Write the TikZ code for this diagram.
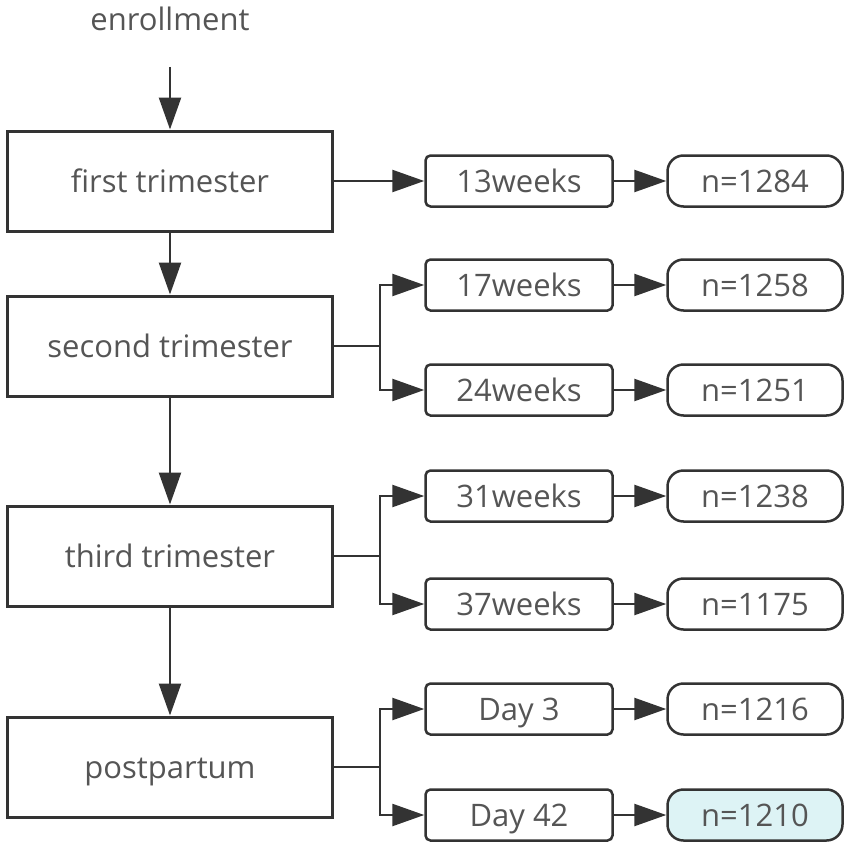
\documentclass[tikz,border=0pt]{standalone}
\usepackage{fontspec}
\setmainfont{Open Sans}
\usetikzlibrary{arrows.meta}
\definecolor{ln}{HTML}{333333}
\definecolor{tx}{HTML}{555555}
\definecolor{hl}{HTML}{DDF3F5}
\begin{document}
\begin{tikzpicture}[x=1pt,y=-1pt,
  every node/.style={text=tx,font=\fontsize{31}{36}\selectfont,text height=23pt,text depth=1pt},
  bigbox/.style={draw=ln,line width=3pt,minimum width=325pt,minimum height=100pt,inner sep=0pt},
  midbox/.style={draw=ln,line width=2.5pt,rounded corners=5pt,minimum width=187pt,minimum height=51pt,inner sep=0pt},
  nbox/.style={draw=ln,line width=2.5pt,rounded corners=16pt,minimum width=175pt,minimum height=51pt,inner sep=0pt},
  conn/.style={draw=ln,line width=2.5pt,-{Triangle[length=32pt,width=22pt]}},
]
\useasboundingbox (0,0) rectangle (851,851);
\node (enr) at (170,20) {enrollment};
\coordinate (enrs) at (170,67);
\node[bigbox] (t1) at (170,181) {first trimester};
\node[bigbox] (t2) at (170,346) {second trimester};
\node[bigbox] (t3) at (170,556) {third trimester};
\node[bigbox] (t4) at (170,767) {postpartum};

\node[midbox] (w13) at (519,181) {13weeks};
\node[midbox] (w17) at (519,285) {17weeks};
\node[midbox] (w24) at (519,390) {24weeks};
\node[midbox] (w31) at (519,496) {31weeks};
\node[midbox] (w37) at (519,604) {37weeks};
\node[midbox] (d3) at (519,709) {Day 3};
\node[midbox] (d42) at (519,815) {Day 42};

\node[nbox] (n1) at (755,181) {n=1284};
\node[nbox] (n2) at (755,285) {n=1258};
\node[nbox] (n3) at (755,390) {n=1251};
\node[nbox] (n4) at (755,496) {n=1238};
\node[nbox] (n5) at (755,604) {n=1175};
\node[nbox] (n6) at (755,709) {n=1216};
\node[nbox,fill=hl] (n7) at (755,815) {n=1210};

\draw[conn] (enrs) -- (t1.north);
\draw[conn] (t1) -- (t2);
\draw[conn] (t2) -- (t3);
\draw[conn] (t3) -- (t4);

\draw[conn] (t1.east) -- (w13.west);
\foreach \s/\a/\b in {t2/w17/w24, t3/w31/w37, t4/d3/d42}{
  \draw[conn] (\s.east) -- ++(46,0) |- (\a.west);
  \draw[conn] (\s.east) -- ++(46,0) |- (\b.west);
}
\foreach \a/\b in {w13/n1,w17/n2,w24/n3,w31/n4,w37/n5,d3/n6,d42/n7}{
  \draw[conn] (\a) -- (\b);
}
\end{tikzpicture}
\end{document}
